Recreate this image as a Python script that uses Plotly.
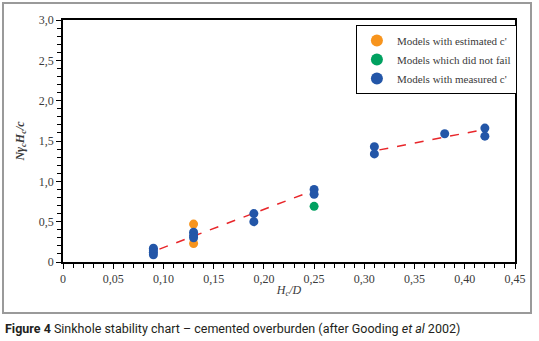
import plotly.graph_objects as go

# Data
est_x = [0.13, 0.13]
est_y = [0.47, 0.23]
nofail_x = [0.25]
nofail_y = [0.69]
meas_x = [0.09, 0.09, 0.09, 0.09, 0.13, 0.13, 0.13, 0.19, 0.19, 0.25, 0.25, 0.31, 0.31, 0.38, 0.42, 0.42]
meas_y = [0.09, 0.12, 0.15, 0.17, 0.37, 0.33, 0.30, 0.60, 0.50, 0.90, 0.84, 1.43, 1.34, 1.59, 1.66, 1.56]
fit1_x = [0.096, 0.248]
fit1_y = [0.16, 0.88]
fit2_x = [0.315, 0.418]
fit2_y = [1.39, 1.64]
x_ticks = [0, 0.05, 0.10, 0.15, 0.20, 0.25, 0.30, 0.35, 0.40, 0.45]
x_labels = ["0", "0,05", "0,10", "0,15", "0,20", "0,25", "0,30", "0,35", "0,40", "0,45"]
y_ticks = [0, 0.5, 1.0, 1.5, 2.0, 2.5, 3.0]
y_labels = ["0", "0,5", "1,0", "1,5", "2,0", "2,5", "3,0"]

ORANGE = "#F7941D"
GREEN = "#00A160"
BLUE = "#2356A8"
RED = "#E8262A"
TXT = "#3a3a3a"
SERIF = "Liberation Serif, DejaVu Serif, serif"

fig = go.Figure()
fig.add_trace(go.Scatter(x=fit1_x, y=fit1_y, mode="lines", showlegend=False,
                         line=dict(color=RED, width=1.5, dash="dash")))
fig.add_trace(go.Scatter(x=fit2_x, y=fit2_y, mode="lines", showlegend=False,
                         line=dict(color=RED, width=1.5, dash="dash")))
fig.add_trace(go.Scatter(x=est_x, y=est_y, mode="markers", name="Models with estimated c'",
                         marker=dict(color=ORANGE, size=9)))
fig.add_trace(go.Scatter(x=nofail_x, y=nofail_y, mode="markers", name="Models which did not fail",
                         marker=dict(color=GREEN, size=9)))
fig.add_trace(go.Scatter(x=meas_x, y=meas_y, mode="markers", name="Models with measured c'",
                         marker=dict(color=BLUE, size=9)))

axis_common = dict(showgrid=False, zeroline=False, showline=True, linecolor="black", linewidth=1.5,
                   mirror=True, ticks="outside", ticklen=5, tickcolor="black", tickwidth=1,
                   automargin=False,
                   tickfont=dict(family=SERIF, size=12, color=TXT))

fig.update_xaxes(range=[0, 0.45], tickvals=x_ticks, ticktext=x_labels,
                 minor=dict(dtick=0.01, tick0=0, ticks="outside", ticklen=4, tickcolor="black"),
                 title=dict(text="<i>H<sub>c</sub>/D</i>", font=dict(family=SERIF, size=12, color=TXT),
                            standoff=0),
                 **axis_common)
fig.update_yaxes(range=[0, 3.0], tickvals=y_ticks, ticktext=y_labels,
                 minor=dict(dtick=0.1, tick0=0, ticks="outside", ticklen=4, tickcolor="black"),
                 title=dict(text="<b><i>Nγ<sub>c</sub>H<sub>c</sub>/c</i></b>",
                            font=dict(family=SERIF, size=12, color=TXT), standoff=12),
                 **axis_common)

fig.update_layout(
    width=539, height=341,
    margin=dict(l=63, r=24, t=20, b=79, autoexpand=False),
    plot_bgcolor="white", paper_bgcolor="white",
    legend=dict(x=0.648, y=0.979, xanchor="left", yanchor="top",
                bordercolor="black", borderwidth=1, bgcolor="white",
                font=dict(family=SERIF, size=11, color=TXT),
                tracegroupgap=0, itemsizing="constant"),
    shapes=[dict(type="rect", xref="paper", yref="paper",
                 x0=-60/452, x1=(531-63)/452, y0=-(313-262)/242, y1=(262-3)/242,
                 line=dict(color="#9a9a9a", width=2), layer="below")],
    annotations=[dict(xref="paper", yref="paper", x=-60/452, y=-(328-262)/242,
                      xanchor="left", yanchor="middle", showarrow=False,
                      text="<b>Figure 4</b> Sinkhole stability chart – cemented overburden (after Gooding <i>et al</i> 2002)",
                      font=dict(family="Roboto, sans-serif", size=12.5, color="#231f20"))],
)

fig.write_html("out.html", config={"displayModeBar": False},
               post_script="document.body.style.margin='0';document.body.style.overflow='hidden';")
